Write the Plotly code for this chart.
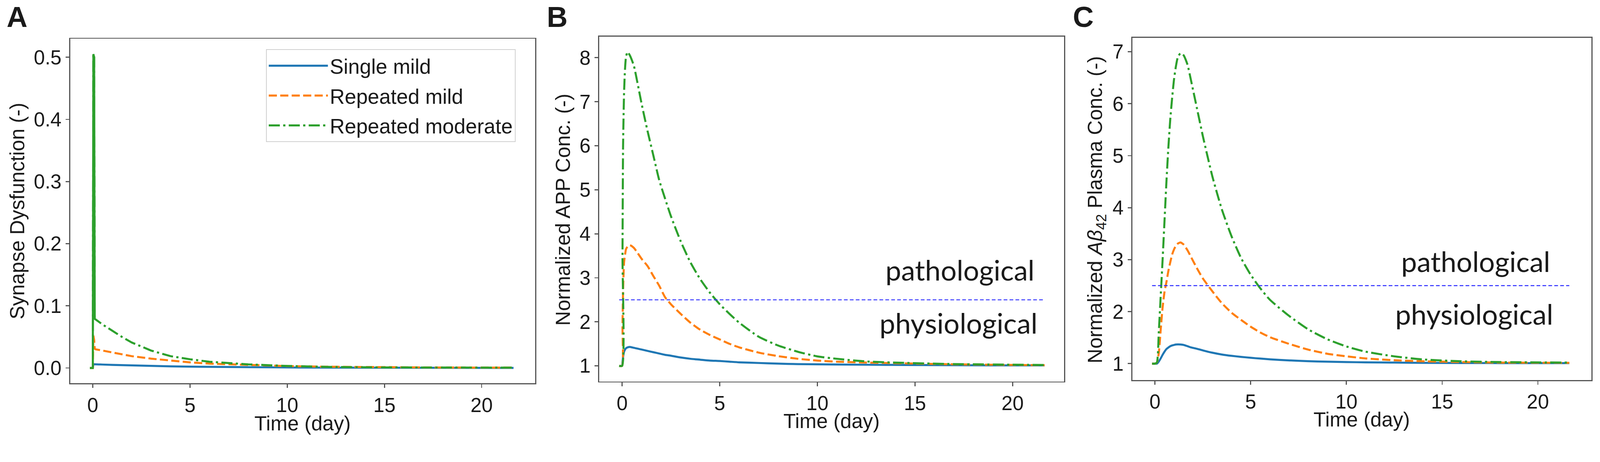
import plotly.graph_objects as go

# ---- data ----
series_names = ["Single mild", "Repeated mild", "Repeated moderate"]
threshold = 2.5

# panel A: synapse dysfunction
t_a = [-0.15, 0.0, 0.03, 0.07, 0.1, 0.15, 0.5, 1.0, 1.5, 2.0, 3.0, 4.0, 5.0, 6.0, 7.0, 8.0,
       10.0, 12.0, 15.0, 18.0, 21.64]
single_a = [0, 0, 0.006, 0.006, 0.006, 0.0058, 0.0055, 0.005, 0.0045, 0.004, 0.0033, 0.0026,
            0.0021, 0.0017, 0.0014, 0.0011, 0.0008, 0.0005, 0.0003, 0.0002, 0.0001]
rep_mild_a = [0, 0, 0.052, 0.045, 0.031, 0.030, 0.028, 0.025, 0.022, 0.019, 0.015, 0.012,
              0.009, 0.007, 0.0058, 0.0046, 0.003, 0.002, 0.0011, 0.0007, 0.0005]
rep_mod_a = [0, 0, 0.505, 0.5, 0.079, 0.078, 0.070, 0.060, 0.050, 0.041, 0.028, 0.019,
             0.014, 0.010, 0.0075, 0.0058, 0.0032, 0.0018, 0.0009, 0.0006, 0.0005]

# panel B: normalized APP conc.
t_b = [-0.15, 0.0, 0.02, 0.05, 0.1, 0.15, 0.2, 0.28, 0.4, 0.6, 0.8, 1.0, 1.3, 1.6, 1.9, 2.2,
       2.5, 3.0, 3.5, 4.0, 4.5, 5.0, 5.5, 6.0, 7.0, 8.0, 9.0, 10.0, 11.0, 12.5, 14.5, 17.0,
       19.0, 21.64]
single_b = [1, 1, 1.08, 1.2, 1.32, 1.37, 1.40, 1.42, 1.43, 1.41, 1.39, 1.37, 1.34, 1.31, 1.28,
            1.25, 1.23, 1.19, 1.16, 1.14, 1.12, 1.11, 1.095, 1.08, 1.065, 1.05, 1.04, 1.035,
            1.03, 1.025, 1.02, 1.015, 1.01, 1.01]
rep_mild_b = [1, 1, 1.9, 2.7, 3.35, 3.52, 3.65, 3.71, 3.74, 3.68, 3.56, 3.43, 3.27, 3.04, 2.82,
              2.56, 2.40, 2.18, 1.98, 1.82, 1.70, 1.60, 1.50, 1.42, 1.30, 1.22, 1.16, 1.12,
              1.095, 1.075, 1.056, 1.035, 1.025, 1.015]
rep_mod_b = [1, 1, 3.5, 6.0, 7.2, 7.75, 8.02, 8.13, 8.05, 7.82, 7.4, 6.95, 6.34, 5.78, 5.22,
             4.8, 4.40, 3.83, 3.35, 2.97, 2.66, 2.40, 2.18, 1.98, 1.66, 1.46, 1.32, 1.215,
             1.16, 1.10, 1.067, 1.04, 1.03, 1.02]

# panel C: normalized Abeta42 plasma conc.
t_c = [-0.15, 0.0, 0.1, 0.2, 0.3, 0.4, 0.5, 0.6, 0.7, 0.8, 0.9, 1.0, 1.1, 1.2, 1.34, 1.5, 1.7,
       1.9, 2.2, 2.5, 3.0, 3.5, 4.0, 4.5, 5.0, 5.5, 6.0, 7.0, 8.0, 9.0, 10.0, 11.0, 12.5, 14.0,
       16.0, 18.0, 21.64]
single_c = [1, 1, 1.0, 1.04, 1.1, 1.17, 1.23, 1.28, 1.31, 1.335, 1.35, 1.36, 1.368, 1.37, 1.368,
            1.36, 1.335, 1.31, 1.285, 1.255, 1.21, 1.175, 1.15, 1.13, 1.112, 1.097, 1.083, 1.062,
            1.047, 1.037, 1.03, 1.025, 1.02, 1.015, 1.012, 1.01, 1.01]
rep_mild_c = [1, 1, 1.02, 1.2, 1.65, 2.08, 2.38, 2.57, 2.78, 2.95, 3.1, 3.2, 3.27, 3.31, 3.33,
              3.29, 3.18, 3.04, 2.83, 2.64, 2.39, 2.16, 1.98, 1.84, 1.71, 1.60, 1.51, 1.38, 1.27,
              1.19, 1.14, 1.10, 1.065, 1.045, 1.03, 1.02, 1.015]
rep_mod_c = [1, 1, 1.02, 1.6, 2.3, 3.0, 3.75, 4.5, 5.15, 5.7, 6.12, 6.48, 6.73, 6.9, 6.97, 6.93,
             6.75, 6.42, 5.9, 5.38, 4.6, 3.96, 3.45, 3.03, 2.71, 2.45, 2.23, 1.92, 1.66, 1.47,
             1.33, 1.23, 1.14, 1.08, 1.045, 1.03, 1.02]

W, H = 4328, 1184
colors = ["#1f77b4", "#ff7f0e", "#2ca02c"]
dashes = ["solid", "22px,9px", "30px,9px,6px,9px"]
AX_FONT = "Liberation Sans, Arial, sans-serif"
TXT = "#1a1a1a"

fig = go.Figure()

panels = [
    (t_a, [single_a, rep_mild_a, rep_mod_a], "x", "y", "linear"),
    (t_b, [single_b, rep_mild_b, rep_mod_b], "x2", "y2", "spline"),
    (t_c, [single_c, rep_mild_c, rep_mod_c], "x3", "y3", "spline"),
]
for p, (t, ys, xa, ya, shape) in enumerate(panels):
    for i, y in enumerate(ys):
        fig.add_trace(go.Scatter(
            x=t, y=y, mode="lines", name=series_names[i], xaxis=xa, yaxis=ya,
            line=dict(color=colors[i], width=5.5, dash=dashes[i], shape=shape, smoothing=0.6),
            showlegend=(p == 0), legendgroup=series_names[i],
        ))
    if p > 0:
        fig.add_trace(go.Scatter(
            x=[t[0], t[-1]], y=[threshold, threshold], mode="lines", xaxis=xa, yaxis=ya,
            line=dict(color="#2a2aff", width=2.5, dash="10px,6px"), showlegend=False,
        ))

# the spike of the moderate curve in A reads as a solid bar in the original
fig.add_trace(go.Scatter(
    x=t_a[1:5], y=rep_mod_a[1:5], mode="lines", xaxis="x", yaxis="y",
    line=dict(color=colors[2], width=5.5), showlegend=False,
))

axis_common = dict(
    showline=True, mirror=True, linecolor="#555555", linewidth=2.5,
    ticks="outside", ticklen=10, tickwidth=2.5, tickcolor="#555555",
    showgrid=False, zeroline=False, automargin=False,
    tickfont=dict(family=AX_FONT, size=54, color=TXT),
)

fig.update_layout(
    template="none",
    width=W, height=H,
    autosize=False,
    margin=dict(l=0, r=0, t=0, b=0, pad=0),
    paper_bgcolor="white", plot_bgcolor="white",
    font=dict(family=AX_FONT, size=54, color=TXT),
    xaxis=dict(domain=[0.04390, 0.33457], range=[-1.16, 22.76], dtick=5, tick0=0, anchor="y", **axis_common),
    yaxis=dict(domain=[0.12331, 0.91132], range=[-0.0247, 0.5297], dtick=0.1, tick0=0,
               tickformat=".1f", anchor="x", **axis_common),
    xaxis2=dict(domain=[0.37454, 0.66497], range=[-1.17, 22.63], dtick=5, tick0=0, anchor="y2", **axis_common),
    yaxis2=dict(domain=[0.12753, 0.91639], range=[0.645, 8.48], dtick=1, tick0=0, anchor="x2", **axis_common),
    xaxis3=dict(domain=[0.70772, 0.99469], range=[-1.18, 22.8], dtick=5, tick0=0, anchor="y3", **axis_common),
    yaxis3=dict(domain=[0.13091, 0.91385], range=[0.685, 7.27], dtick=1, tick0=0, anchor="x3", **axis_common),
    legend=dict(
        x=720 / W, y=1 - 133 / H, xanchor="left", yanchor="top",
        bgcolor="white", bordercolor="#d0d0d0", borderwidth=2,
        font=dict(family=AX_FONT, size=56, color=TXT),
        tracegroupgap=5, itemwidth=160,
    ),
)

annots = [
    # panel letters
    dict(text="<b>A</b>", x=16 / W, y=1 - 46 / H, xanchor="left", yanchor="middle", font=dict(size=78)),
    dict(text="<b>B</b>", x=1477 / W, y=1 - 46 / H, xanchor="left", yanchor="middle", font=dict(size=78)),
    dict(text="<b>C</b>", x=2900 / W, y=1 - 46 / H, xanchor="left", yanchor="middle", font=dict(size=78)),
    # y titles
    dict(text="Synapse Dysfunction (-)", x=46 / W, y=0.5169, textangle=-90,
         xanchor="center", yanchor="middle", font=dict(size=55)),
    dict(text="Normalized APP Conc. (-)", x=1523 / W, y=0.5203, textangle=-90,
         xanchor="center", yanchor="middle", font=dict(size=55)),
    dict(text="Normalized <i>Aβ</i><sub>42</sub> Plasma Conc. (-)", x=2966 / W, y=0.5203,
         textangle=-90, xanchor="center", yanchor="middle", font=dict(size=55)),
    # x titles
    dict(text="Time (day)", x=0.18923, y=1 - 1146 / H, xanchor="center", yanchor="middle", font=dict(size=55)),
    dict(text="Time (day)", x=0.51976, y=1 - 1140 / H, xanchor="center", yanchor="middle", font=dict(size=55)),
    dict(text="Time (day)", x=0.85120, y=1 - 1136 / H, xanchor="center", yanchor="middle", font=dict(size=55)),
]
for a in annots:
    a.update(xref="paper", yref="paper", showarrow=False)
    a["font"] = dict(family=AX_FONT, color=TXT, **a["font"])

region_font = dict(family="Lato, sans-serif", size=76, color=TXT)
annots += [
    dict(text="pathological", x=21.15, y=3.18, xref="x2", yref="y2", xanchor="right",
         yanchor="middle", showarrow=False, font=region_font),
    dict(text="physiological", x=21.3, y=1.98, xref="x2", yref="y2", xanchor="right",
         yanchor="middle", showarrow=False, font=region_font),
    dict(text="pathological", x=20.68, y=2.97, xref="x3", yref="y3", xanchor="right",
         yanchor="middle", showarrow=False, font=region_font),
    dict(text="physiological", x=20.83, y=1.96, xref="x3", yref="y3", xanchor="right",
         yanchor="middle", showarrow=False, font=region_font),
]
fig.update_layout(annotations=annots)

# drop the page margin and shrink the fixed-size figure to the viewport if it is smaller
fit_js = """
var gd = document.getElementById('{plot_id}');
document.body.style.margin = '0';
document.body.style.overflow = 'hidden';
var k = Math.min(window.innerWidth / %d, window.innerHeight / %d);
if (k < 0.999) { gd.style.transformOrigin = '0 0'; gd.style.transform = 'scale(' + k + ')'; }
""" % (W, H)

fig.write_html("out.html", post_script=fit_js, config={"displayModeBar": False})
